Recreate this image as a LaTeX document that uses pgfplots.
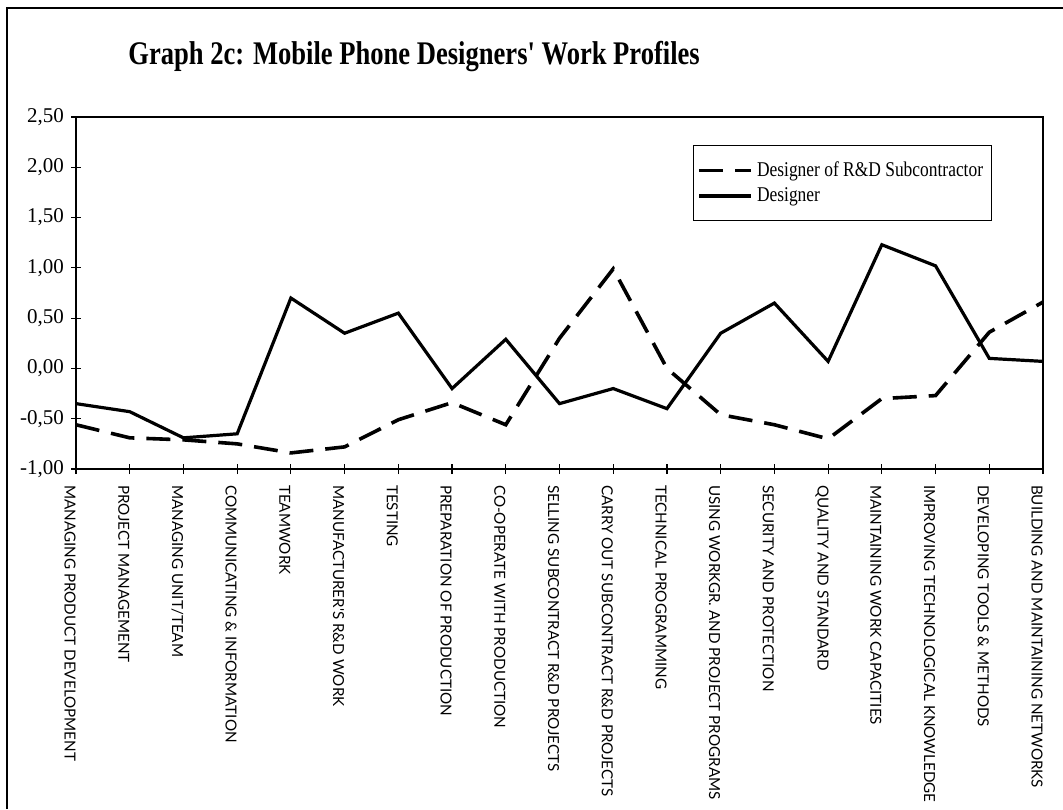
\documentclass[border=0pt]{standalone}
\usepackage{pgfplots}
\pgfplotsset{compat=1.18}
\usepackage{fontspec}
\setmainfont{Liberation Serif}
\newfontfamily\catfont{Lato}
\newcommand{\legtxt}[1]{\scalebox{0.83}[1]{#1}}
\begin{document}
\begin{tikzpicture}[x=1pt,y=1pt]
\useasboundingbox (-38,-170) rectangle (493.5,234.5);
\draw[line width=0.6pt] (-34.5,-170) -- (-34.5,230.5) -- (493.5,230.5);
\node[anchor=west, inner sep=0pt] at (26,206) {\scalebox{0.805}[1]{\fontsize{16.5}{18}\selectfont\bfseries Graph 2c: Mobile Phone Designers\textquotesingle\ Work Profiles}};
\begin{axis}[
  at={(0,0)}, anchor=south west,
  scale only axis, width=483.5pt, height=176pt,
  xmin=0, xmax=18, ymin=-1, ymax=2.5,
  xtick={0,...,18},
  xticklabels={MANAGING PRODUCT DEVELOPMENT, PROJECT MANAGEMENT, MANAGING UNIT/TEAM, COMMUNICATING \& INFORMATION, TEAMWORK, MANUFACTURER'S R\&D WORK, TESTING, PREPARATION OF PRODUCTION, CO-OPERATE WITH PRODUCTION, SELLING SUBCONTRACT R\&D PROJECTS, CARRY OUT SUBCONTRACT R\&D PROJECTS, TECHNICAL PROGRAMMING, USING WORKGR. AND PROJECT PROGRAMS, SECURITY AND PROTECTION, QUALITY AND STANDARD, MAINTAINING WORK CAPACITIES, IMPROVING TECHNOLOGICAL KNOWLEDGE, DEVELOPING TOOLS \& METHODS, BUILDING AND MAINTAINING NETWORKS},
  xticklabel style={font=\catfont\fontsize{7.6}{8}\selectfont, xshift=-3pt, yshift=-2pt, rotate=-90, anchor=west},
  ytick={-1,-0.5,0,0.5,1,1.5,2,2.5},
  yticklabel style={font=\fontsize{10.5}{12}\selectfont, /pgf/number format/.cd, fixed, fixed zerofill, precision=2, use comma, assume math mode=true},
  tick pos=left, tick align=center, major tick length=5pt,
  tick style={black, line width=0.6pt},
  axis line style={line width=0.8pt},
  legend style={at={(0.638,0.92)}, anchor=north west, draw=black, line width=0.5pt, font=\fontsize{10.5}{12}\selectfont, inner xsep=2pt, inner ysep=6pt, row sep=0pt, legend cell align=left},
  legend image code/.code={\draw[#1] (0pt,0pt) -- (26pt,0pt);},
]
\addplot[black, line width=1.8pt, dash pattern=on 12pt off 6pt] coordinates {
(0,-0.56) (1,-0.69) (2,-0.71) (3,-0.75) (4,-0.84) (5,-0.78) (6,-0.51) (7,-0.34) (8,-0.56) (9,0.30) (10,0.99) (11,0.00) (12,-0.46) (13,-0.56) (14,-0.70) (15,-0.30) (16,-0.27) (17,0.36) (18,0.66)};
\addlegendentry{\legtxt{Designer of R\&D Subcontractor}}
\addplot[black, line width=1.6pt] coordinates {
(0,-0.35) (1,-0.43) (2,-0.69) (3,-0.65) (4,0.70) (5,0.35) (6,0.55) (7,-0.20) (8,0.29) (9,-0.35) (10,-0.20) (11,-0.40) (12,0.35) (13,0.65) (14,0.07) (15,1.23) (16,1.02) (17,0.10) (18,0.07)};
\addlegendentry{\legtxt{Designer}}
\end{axis}
\end{tikzpicture}
\end{document}
